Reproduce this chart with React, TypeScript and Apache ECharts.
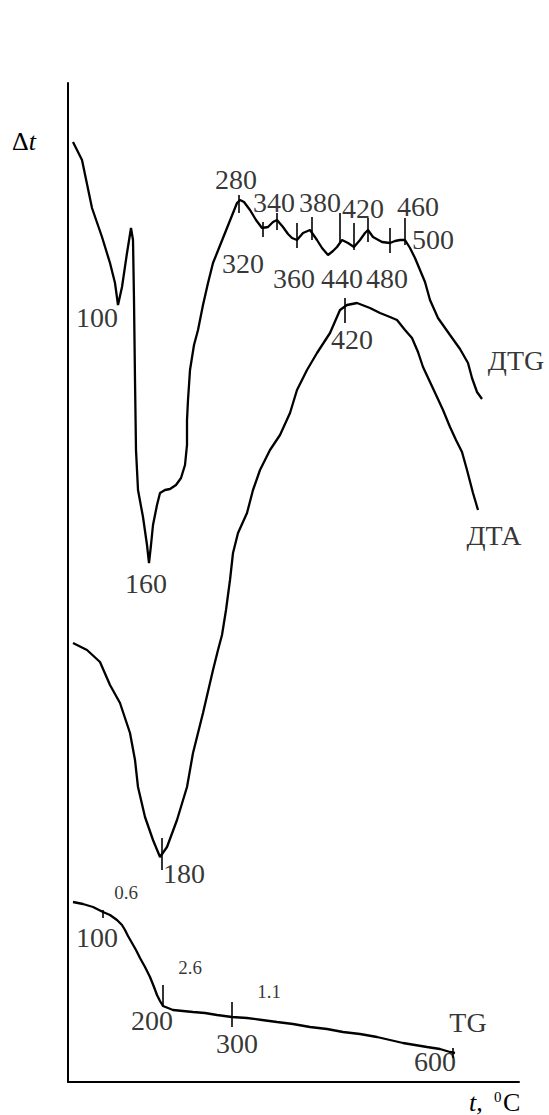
import React, { useEffect, useRef } from "react";
import * as echarts from "echarts";

// Curves are given in axis units: x along the temperature axis, y along the Δt axis.
const dtgCurve: [number, number][] = [
  [5, 940], [14, 922], [24, 874], [34, 845], [42, 819], [47, 799], [50, 777], [54, 795],
  [59, 829], [63, 854], [65, 842], [66, 782], [67, 702], [68, 632], [70, 592], [75, 565],
  [79, 537], [81, 519], [83, 537], [85, 557], [89, 577], [92, 589], [97, 592], [102, 593],
  [108, 597], [113, 604], [117, 617], [119, 637], [119, 662], [120, 682], [122, 712],
  [126, 737], [130, 752], [135, 777], [140, 799], [145, 819], [151, 834], [157, 849],
  [163, 864], [169, 879], [172, 882], [176, 880], [182, 872], [188, 862], [194, 854],
  [200, 855], [205, 860], [209, 862], [215, 855], [220, 848], [224, 844], [229, 842],
  [235, 849], [242, 852], [249, 842], [254, 834], [260, 827], [265, 831], [269, 835],
  [274, 842], [280, 839], [286, 835], [292, 842], [297, 849], [300, 852], [305, 845],
  [314, 840], [322, 839], [327, 841], [332, 842], [337, 842], [342, 834], [347, 824],
  [352, 812], [357, 800], [362, 782], [370, 764], [382, 747], [392, 733], [400, 719],
  [404, 704], [409, 690], [414, 683],
];

const dtaCurve: [number, number][] = [
  [5, 439], [19, 432], [32, 420], [42, 397], [52, 379], [62, 349], [67, 322], [70, 295],
  [77, 265], [85, 242], [92, 225], [99, 235], [109, 262], [119, 295], [125, 329],
  [135, 369], [145, 412], [150, 432], [154, 447], [158, 472], [162, 502], [165, 529],
  [170, 549], [179, 569], [185, 592], [192, 612], [202, 632], [212, 647], [222, 669],
  [229, 692], [239, 712], [249, 729], [262, 749], [272, 772], [279, 777], [289, 779],
  [302, 774], [312, 769], [322, 765], [329, 762], [337, 752], [344, 744], [350, 730],
  [355, 715], [362, 700], [369, 685], [375, 672], [382, 655], [388, 642], [394, 630],
  [399, 612], [405, 589], [410, 572],
];

const tgCurve: [number, number][] = [
  [5, 180], [15, 178], [25, 175], [35, 170], [42, 167], [49, 162], [54, 157], [57, 152],
  [60, 146], [64, 139], [68, 132], [72, 124], [77, 115], [82, 105], [86, 95], [89, 87],
  [92, 81], [95, 76], [100, 74], [105, 72], [115, 71], [125, 70], [137, 69], [149, 67],
  [164, 65], [179, 64], [194, 62], [209, 60], [225, 58], [242, 55], [259, 53], [275, 50],
  [292, 48], [309, 45], [322, 42], [335, 39], [347, 37], [359, 35], [372, 33], [382, 30],
  [387, 29],
];

// Short vertical marks on the curves: [x, yFrom, yTo]
const curveMarks: [number, number, number][] = [
  [171, 869, 887], [195, 845, 860], [209, 852, 869], [229, 834, 859], [244, 842, 865],
  [272, 839, 869], [286, 832, 859], [300, 840, 864], [322, 829, 854], [337, 837, 864],
  [277, 759, 784], [94, 212, 244],
  [35, 164, 172], [95, 75, 97], [164, 55, 80], [385, 24, 34],
];

// Temperature labels: [x, y, text]
const tempLabels: [number, number, string][] = [
  [29, 765, "100"], [168, 903, "280"], [175, 819, "320"], [206, 880, "340"],
  [252, 880, "380"], [295, 874, "420"], [350, 876, "460"], [365, 843, "500"],
  [226, 804, "360"], [274, 804, "440"], [319, 804, "480"], [284, 743, "420"],
  [78, 499, "160"], [116, 209, "180"],
  [29, 145, "100"], [84, 62, "200"], [169, 39, "300"], [367, 21, "600"],
];

// Mass-loss values on the TG curve
const lossLabels: [number, number, string][] = [
  [58, 190, "0.6"], [122, 115, "2.6"], [201, 91, "1.1"],
];

const curveNames: [number, number, string][] = [
  [448, 722, "ДТG"], [426, 547, "ДТА"], [400, 60, "TG"],
];

const FONT = "'Liberation Serif', 'Times New Roman', serif";

function textSeries(data: [number, number, string][], size: number) {
  return {
    type: "scatter",
    symbolSize: 0,
    clip: false,
    silent: true,
    itemStyle: { color: "#000" },
    data: data.map((d) => ({ value: [d[0], d[1]], name: d[2] })),
    label: {
      show: true,
      position: "inside",
      align: "center",
      verticalAlign: "middle",
      formatter: (p: any) => p.name,
      color: "#000",
      textBorderWidth: 0,
      textBorderColor: "transparent",
      fontFamily: FONT,
      fontSize: size,
    },
  };
}

function curveSeries(data: [number, number][]) {
  return {
    type: "line",
    data,
    showSymbol: false,
    smooth: false,
    clip: false,
    lineStyle: { color: "#000", width: 2.3 },
  };
}

export default function App() {
  const ref = useRef<HTMLDivElement>(null);

  useEffect(() => {
    if (!ref.current) return;
    const chart = echarts.init(ref.current, null, { renderer: "svg" });
    chart.setOption({
      animation: false,
      backgroundColor: "#fff",
      grid: { left: 68, top: 83, width: 451, height: 999 },
      xAxis: {
        type: "value",
        min: 0,
        max: 451,
        axisLine: { show: true, lineStyle: { color: "#000", width: 2 } },
        axisTick: { show: false },
        axisLabel: { show: false },
        splitLine: { show: false },
      },
      yAxis: {
        type: "value",
        min: 0,
        max: 999,
        axisLine: { show: true, lineStyle: { color: "#000", width: 2 } },
        axisTick: { show: false },
        axisLabel: { show: false },
        splitLine: { show: false },
      },
      series: [
        curveSeries(dtgCurve),
        curveSeries(dtaCurve),
        curveSeries(tgCurve),
        {
          type: "custom",
          silent: true,
          clip: false,
          data: curveMarks,
          renderItem: (_params: any, api: any) => {
            const a = api.coord([api.value(0), api.value(1)]);
            const b = api.coord([api.value(0), api.value(2)]);
            return {
              type: "line",
              shape: { x1: a[0], y1: a[1], x2: b[0], y2: b[1] },
              style: { stroke: "#000", lineWidth: 1.6 },
            };
          },
        },
        textSeries(tempLabels, 28),
        textSeries(lossLabels, 19),
        textSeries(curveNames, 28),
      ],
      graphic: [
        {
          type: "text",
          left: 12,
          top: 128,
          style: {
            text: "{a|Δ}{b|t}",
            fontFamily: FONT,
            fontSize: 26,
            fill: "#000",
            rich: {
              a: { fontFamily: FONT, fontSize: 26, fill: "#000" },
              b: { fontFamily: FONT, fontSize: 26, fontStyle: "italic", fill: "#000" },
            },
          },
        },
        {
          type: "text",
          left: 469,
          top: 1089,
          style: { text: "t,", fontFamily: FONT, fontSize: 26, fontStyle: "italic", fill: "#000" },
        },
        {
          type: "text",
          left: 494,
          top: 1089,
          style: { text: "0", fontFamily: FONT, fontSize: 15, fill: "#000" },
        },
        {
          type: "text",
          left: 503,
          top: 1089,
          style: { text: "C", fontFamily: FONT, fontSize: 26, fill: "#000" },
        },
      ],
    });
    return () => chart.dispose();
  }, []);

  return (
    <div
      ref={ref}
      style={{ position: "fixed", left: 0, top: 0, width: 549, height: 1115, background: "#fff" }}
    />
  );
}
